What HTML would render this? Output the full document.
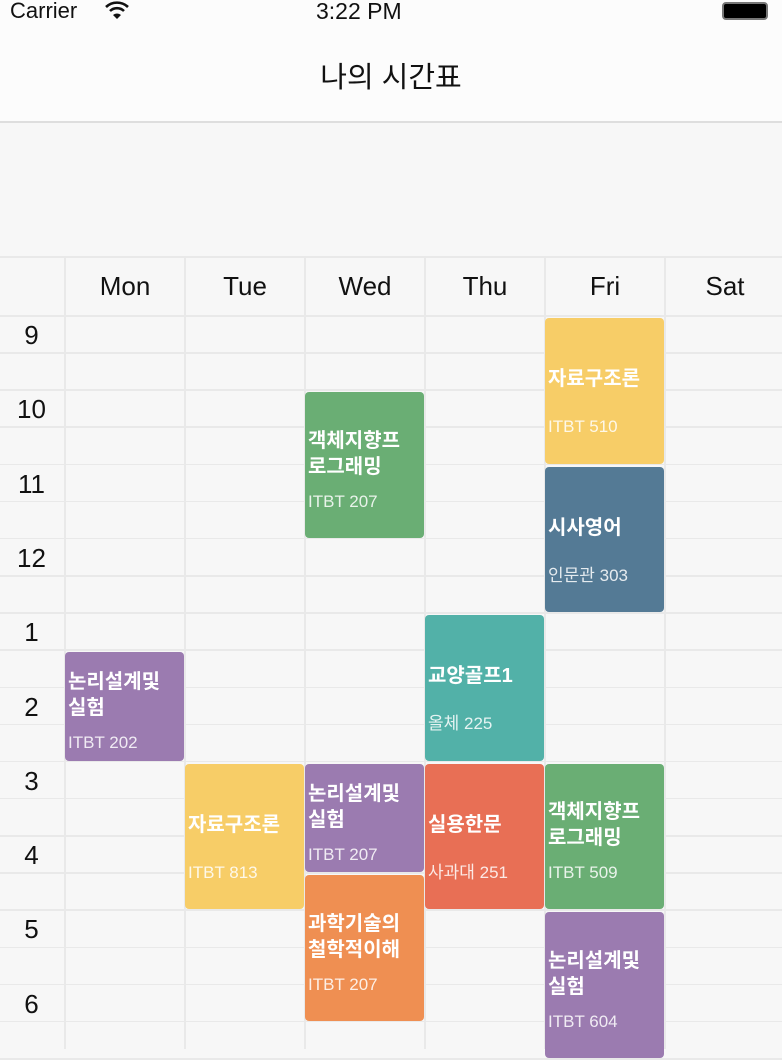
<!DOCTYPE html>
<html><head><meta charset="utf-8">
<style>
*{margin:0;padding:0;box-sizing:border-box}
body{width:782px;height:1049px;overflow:hidden;background:#f7f7f7;font-family:"Liberation Sans","Noto Sans CJK KR",sans-serif;position:relative}
#status{position:absolute;left:0;top:0;width:782px;height:26px;background:#fcfcfc}
#nav{position:absolute;left:0;top:26px;width:782px;height:97px;background:#fcfcfc;border-bottom:2px solid #dedede}
.abs{position:absolute}
.line{position:absolute;background:#e9e9e9}
.ev{position:absolute;border-radius:4px;color:#fff;display:flex;flex-direction:column;justify-content:center;padding-left:3px;padding-top:6px;overflow:hidden}
.ev .t{font-size:20px;font-weight:bold;line-height:26px;height:60px;display:flex;flex-direction:column;justify-content:center}
.ev .l{font-size:17px;color:rgba(255,255,255,0.85);margin-top:7px;line-height:22px}
</style></head><body>
<div id="status">
<div class="abs" style="left:10px;top:-2px;font-size:22px;color:#111">Carrier</div>
<svg class="abs" style="left:104px;top:0" width="26" height="20"><path d="M2 7 A16 16 0 0 1 24 7" stroke="#111" stroke-width="2.6" fill="none"/><path d="M6 11 A10 10 0 0 1 20 11" stroke="#111" stroke-width="2.6" fill="none"/><path d="M13 19 L9 15 A6 6 0 0 1 17 15 Z" fill="#111"/></svg>
<div class="abs" style="left:316px;top:-2px;font-size:23px;color:#111">3:22 PM</div>
<div class="abs" style="left:722px;top:2px;width:46px;height:18px;border:2px solid #777;border-radius:4px;background:#000"></div>
</div>
<div id="nav">
<div class="abs" style="left:0;width:782px;top:28px;text-align:center;font-size:29px;color:#111">나의 시간표</div>
</div>
<div id="grid" class="abs" style="left:0;top:257px;width:782px;height:792px"></div>
<script>
const dayNames=["Mon","Tue","Wed","Thu","Fri","Sat"];
const hourLabels=["9","10","11","12","1","2","3","4","5","6"];
const evDays=[4,4,2,0,3,1,2,2,3,4,4];
const evStart=[9,11,10,13.5,13,15,15,16.5,15,15,17];
const evEnd=[11,13,12,15,15,17,16.5,18.5,17,17,19];
const evTitles=["자료구조론","시사영어","객체지향프<br>로그래밍","논리설계및<br>실험","교양골프1","자료구조론","논리설계및<br>실험","과학기술의<br>철학적이해","실용한문","객체지향프<br>로그래밍","논리설계및<br>실험"];
const evLocs=["ITBT 510","인문관 303","ITBT 207","ITBT 202","올체 225","ITBT 813","ITBT 207","ITBT 207","사과대 251","ITBT 509","ITBT 604"];
const evColors=["#f7cd67","#547a95","#6aae74","#9b7bb0","#52b1a8","#f7cd67","#9b7bb0","#ef8f52","#e86f55","#6aae74","#9b7bb0"];
const g=document.getElementById('grid');
const X0=65,CW=120,Y0=59,HH=74.3;
const xDay=d=>X0+d*CW;
const yHour=h=>Y0+(h-9)*HH;
for(let d=0;d<=6;d++){const l=document.createElement('div');l.className='line';l.style.cssText=`left:${xDay(d)-1}px;top:0;width:1.5px;height:792px`;

g.appendChild(l);}
for(let i=0;i<=21;i++){const l=document.createElement('div');l.className='line';const y=i==0?0:yHour(9+(i-1)/2);l.style.cssText=`left:0;top:${y-1}px;width:782px;height:1.5px`;

g.appendChild(l);}
dayNames.forEach((n,d)=>{const e=document.createElement('div');e.className='abs';e.textContent=n;e.style.cssText=`left:${xDay(d)}px;width:${CW}px;top:14px;text-align:center;font-size:26px;color:#111`;

g.appendChild(e);});
hourLabels.forEach((n,i)=>{const e=document.createElement('div');e.className='abs';e.textContent=n;e.style.cssText=`left:0;width:63px;top:${yHour(9+i)+4}px;text-align:center;font-size:26px;color:#111`;

g.appendChild(e);});
evDays.forEach((d,i)=>{const e=document.createElement('div');e.className='ev';
const y1=yHour(evStart[i]),y2=yHour(evEnd[i]);
e.style.cssText=`left:${xDay(d)}px;width:${CW-1}px;top:${y1+2}px;height:${y2-y1-3}px;background:${evColors[i]}`;
e.innerHTML=`<div class="t"><div>${evTitles[i]}</div></div><div class="l">${evLocs[i]}</div>`;

g.appendChild(e);});
</script>
</body></html>
